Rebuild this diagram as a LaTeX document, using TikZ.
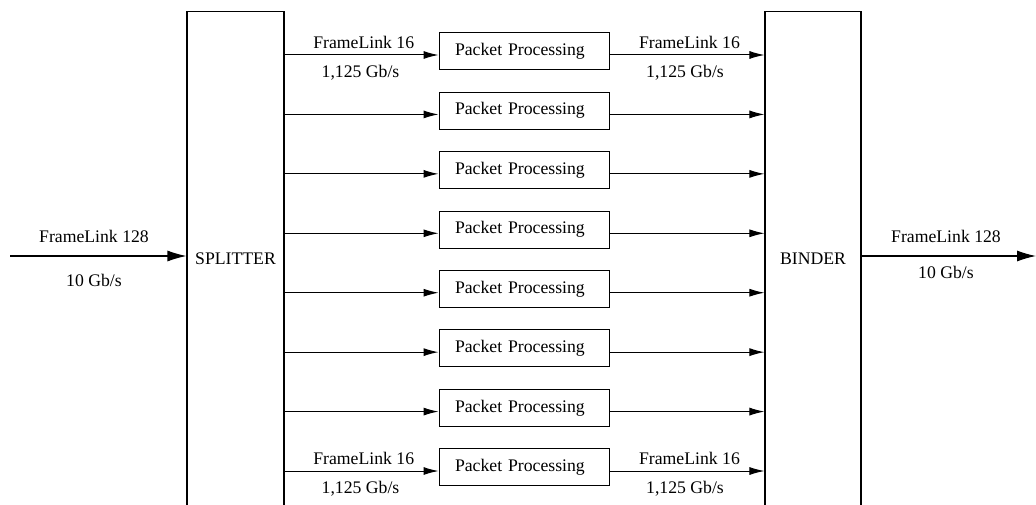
\documentclass[tikz,border=0pt]{standalone}
\usepackage{fontspec}
\setmainfont{Liberation Serif}
\usetikzlibrary{arrows.meta}
\begin{document}
\begin{tikzpicture}[x=1pt,y=-1pt,font=\fontsize{17.7}{21}\selectfont,
  big/.style={draw,line width=1.1pt,minimum width=97pt,minimum height=503.4pt,inner sep=0pt},
  pp/.style={draw,line width=1pt,minimum width=170pt,minimum height=37pt,inner xsep=16pt,inner ysep=0pt,text width=138pt,align=left},
  link/.style={line width=1pt,-{Latex[length=15pt,width=8pt]}},
  mainlink/.style={line width=1.1pt,-{Latex[length=19pt,width=11pt]}},
  lbl/.style={inner sep=0pt}]
\useasboundingbox (0,0) rectangle (1036,505);
\node[big,label={[lbl,yshift=5pt]center:SPLITTER}] (split) at (235.5,263.3) {};
\node[big,minimum width=96pt,label={[lbl,yshift=5pt]center:BINDER}] (bind) at (813,263.3) {};
% input / output
\coordinate (in) at (10,256);
\coordinate (out) at (1036,256);
\draw[mainlink] (in) -- (in -| split.west);
\draw[mainlink] (bind.east |- out) -- (out);
\node[lbl] (inA) at (94,236) {FrameLink 128};
\node[lbl] (inB) at (94,280) {10 Gb/s};
\node[lbl] (outA) at (946,236) {FrameLink 128};
\node[lbl] (outB) at (946,272) {10 Gb/s};
% rows
\foreach \i in {1,...,8}{
  \pgfmathsetmacro\yy{55+59.43*(\i-1)}
  \coordinate (r\i) at (0,\yy);
  \node[pp] (p\i) at (524,\yy-3.7) {Packet Processing};
  \draw[link] (split.east |- r\i) -- (p\i.west |- r\i);
  \draw[link] (p\i.east |- r\i) -- (bind.west |- r\i);
}
\foreach \i in {1,8}{
  \pgfmathsetmacro\yy{55+59.43*(\i-1)}
  \node[lbl] (la\i) at (363.7,\yy-12.3) {FrameLink 16};
  \node[lbl] (lb\i) at (360.5,\yy+17.5) {1,125 Gb/s};
  \node[lbl] (ra\i) at (689.5,\yy-12.3) {FrameLink 16};
  \node[lbl] (rb\i) at (685,\yy+17.5) {1,125 Gb/s};
}
\end{tikzpicture}
\end{document}
